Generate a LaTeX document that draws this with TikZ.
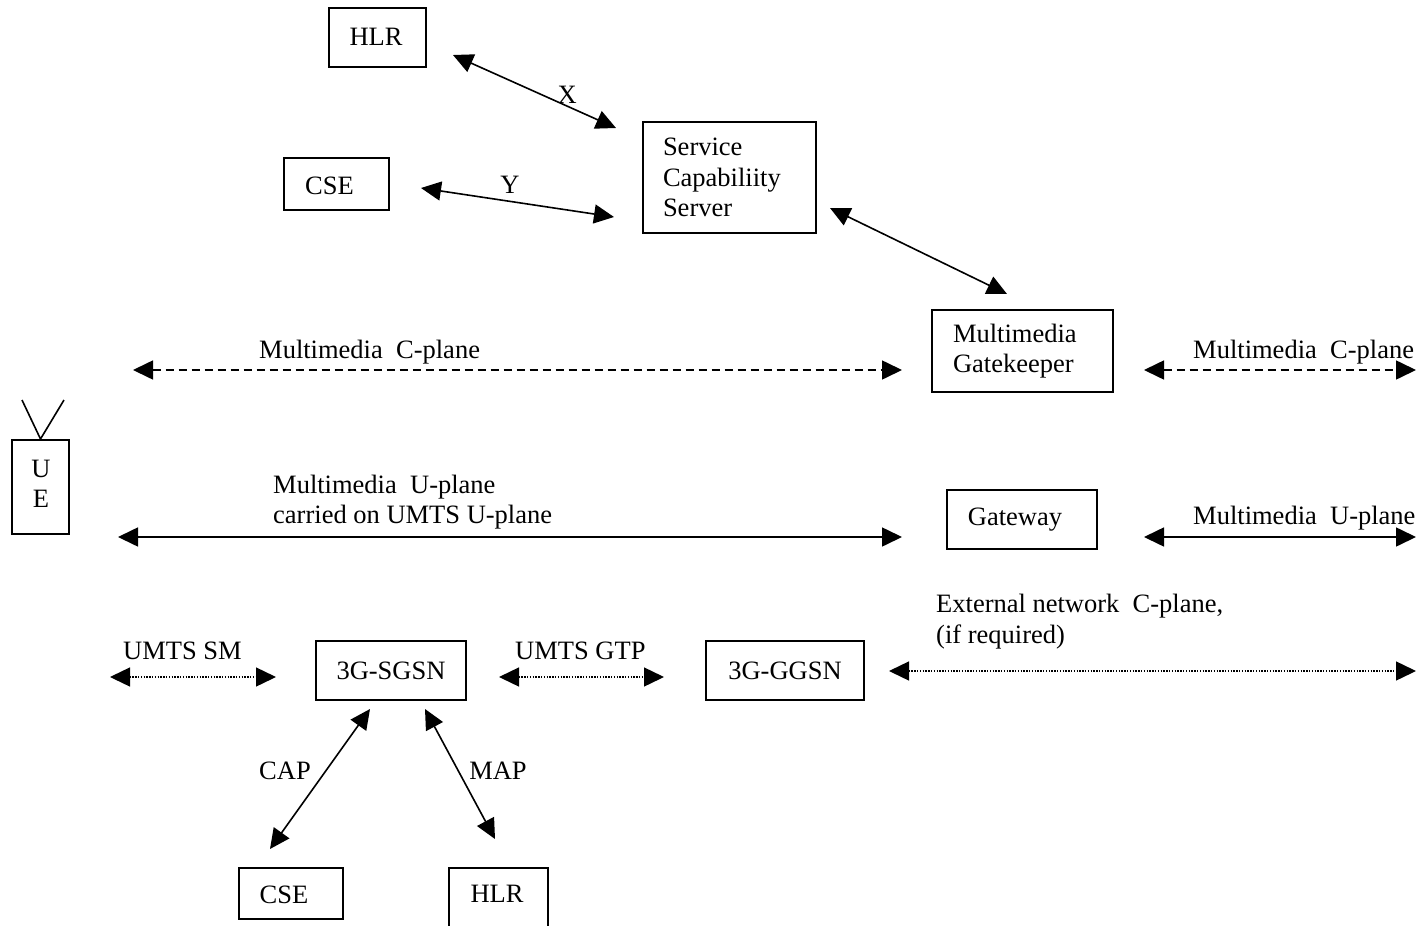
\documentclass[tikz,border=0pt]{standalone}
\usepackage{fontspec}
\setmainfont{Liberation Serif}
\usetikzlibrary{arrows.meta}
\begin{document}
\begin{tikzpicture}[x=1pt,y=-1pt,
  every node/.style={font=\fontsize{26.5}{30.5}\selectfont},
  box/.style={draw,line width=2pt,inner sep=0pt},
  lbl/.style={inner sep=0pt,anchor=west},
  con/.style={line width=1.6pt,{Triangle[length=20pt,width=19pt]}-{Triangle[length=20pt,width=19pt]}},
  dashcon/.style={con,dash pattern=on 8pt off 5pt},
  dotcon/.style={con,line width=1.4pt,dash pattern=on 1.4pt off 1.4pt}]
\useasboundingbox (0,0) rectangle (1422,926);
\clip (0,0) rectangle (1422,926);
% boxes
\node[box,minimum width=97pt,minimum height=59pt] (hlr) at (377.5,37.5) {};
\node[inner sep=0pt] (hlrtxt) at (376,37) {HLR};
\node[box,minimum width=105pt,minimum height=52pt] (cse) at (336.5,184) {};
\node[lbl] (csetxt) at (305,186) {CSE};
\node[box,minimum width=173pt,minimum height=111pt,text width=133pt,inner xsep=20pt,align=left] (scs) at (729.5,177.5) {Service\\Capabiliity\\Server};
\node[box,minimum width=181pt,minimum height=82pt,text width=139pt,inner xsep=21pt,align=left] (mgk) at (1022.5,351) {Multimedia\\Gatekeeper};
\node[box,minimum width=150pt,minimum height=59pt] (gw) at (1022,519.5) {};
\node[inner sep=0pt] (gwtxt) at (1015,520) {Gateway};
\node[box,minimum width=57pt,minimum height=94pt,align=center] (ue) at (40.5,487) {};
\node[inner sep=0pt,align=center] (uetxt) at (41,484) {U\\E};
\node[box,minimum width=150pt,minimum height=59pt] (sgsn) at (391,670.5) {3G-SGSN};
\node[box,minimum width=158pt,minimum height=59pt] (ggsn) at (785,670.5) {3G-GGSN};
\node[box,minimum width=104pt,minimum height=51pt] (cse2) at (291,893.5) {};
\node[inner sep=0pt] (cse2txt) at (284,895) {CSE};
\node[box,minimum width=99pt,minimum height=64pt] (hlr2) at (498.5,900) {};
\node[inner sep=0pt] (hlr2txt) at (497,894) {HLR};
% antenna
\coordinate (antL) at (22,400);
\coordinate (antR) at (64,400);
\draw[line width=1.6pt] (antL) -- (ue.north) -- (antR);
% connectors
\draw[con] ([shift={(26,17.5)}]hlr.east) -- node[pos=0.7,above=2pt,inner sep=0pt] (xl) {X} ([shift={(-26,-49.5)}]scs.west);
\draw[con] ([shift={(31,4)}]cse.east) -- ([shift={(-28,39.5)}]scs.west);
\node[inner sep=0pt] (yl) at (510,185) {Y};
\draw[con] ([shift={(13,30.5)}]scs.east) -- ([shift={(-15.5,-15)}]mgk.north);
% C-plane
\coordinate (cpL) at (133,370);
\coordinate (cpR) at (1416,370);
\draw[dashcon] (cpL) -- ([shift={(-29,19)}]mgk.west);
\draw[dashcon] ([shift={(30,19)}]mgk.east) -- (cpR);
\node[lbl] (cpl1) at (259,352) {Multimedia\ \ C-plane};
\node[lbl] (cpl2) at (1193,352) {Multimedia\ \ C-plane};
% U-plane
\coordinate (upL) at (118,537);
\coordinate (upR) at (1416,537);
\draw[con] (upL) -- ([shift={(-44,17.5)}]gw.west);
\draw[con] ([shift={(46,17.5)}]gw.east) -- (upR);
\node[lbl,align=left] (upl1) at (273,502) {Multimedia\ \ U-plane\\carried on UMTS U-plane};
\node[lbl] (upl2) at (1193,518) {Multimedia\ \ U-plane};
% UMTS SM / GTP / external
\coordinate (smL) at (110,677);
\coordinate (extR) at (1416,671);
\draw[dotcon] (smL) -- ([shift={(-39,6.5)}]sgsn.west);
\draw[dotcon] ([shift={(32,6.5)}]sgsn.east) -- ([shift={(-41,6.5)}]ggsn.west);
\draw[dotcon] ([shift={(24,0.5)}]ggsn.east) -- (extR);
\node[lbl] (sml) at (123,651) {UMTS SM};
\node[lbl] (gtpl) at (515,651) {UMTS GTP};
\node[lbl,align=left] (extl) at (936,621.5) {External network\ \ C-plane,\\(if required)};
% CAP / MAP
\draw[con] ([shift={(-21,8)}]sgsn.south) -- ([shift={(-21,-18)}]cse2.north);
\draw[con] ([shift={(34,8)}]sgsn.south) -- ([shift={(-3.5,-28)}]hlr2.north);
\node[inner sep=0pt] (capl) at (285,771) {CAP};
\node[inner sep=0pt] (mapl) at (498,771) {MAP};
\end{tikzpicture}
\end{document}
